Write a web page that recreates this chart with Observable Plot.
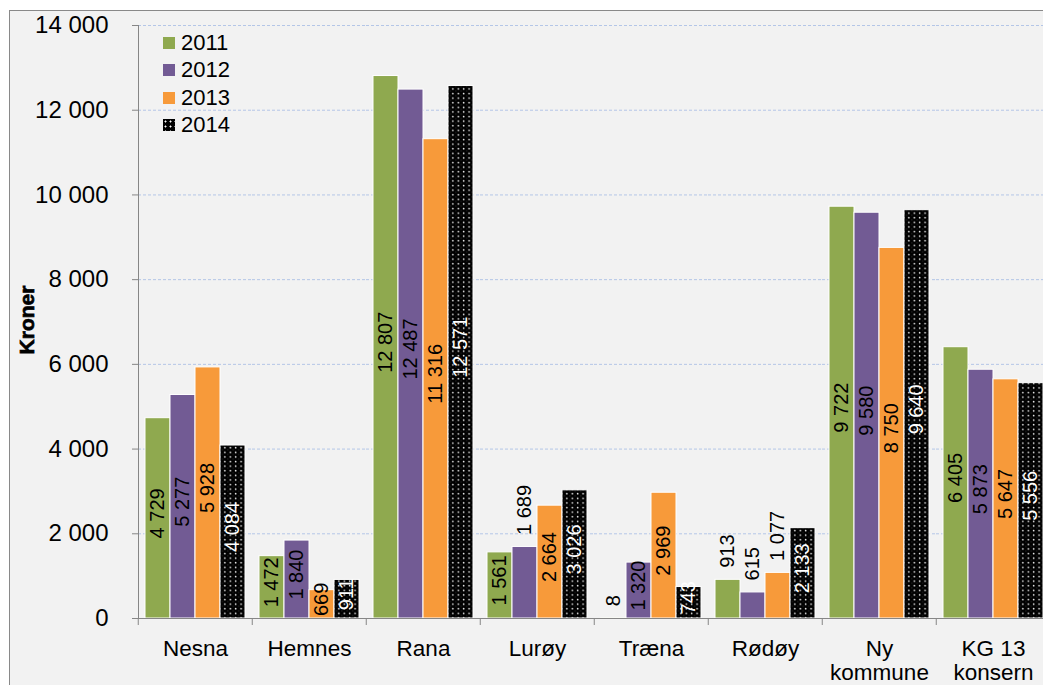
<!DOCTYPE html>
<html>
<head>
<meta charset="utf-8">
<script src="https://cdn.jsdelivr.net/npm/d3@7"></script>
<script src="https://cdn.jsdelivr.net/npm/@observablehq/plot@0.6"></script>
<style>
  body { margin: 0; overflow: hidden; background: #fff; font-family: "Liberation Sans", Arial, sans-serif; }
  #frame { position: absolute; left: 9px; top: 10px; width: 1100px; height: 700px; border: 1px solid #898989; background: #f2f2f2; }
  #chart { position: absolute; left: 0; top: 0; }
  #legend { position: absolute; left: 163px; top: 29.5px; font-size: 22px; color: #000; }
  #legend .row { display: flex; align-items: center; height: 27.3px; }
  #legend .sw { width: 12px; height: 12px; margin-right: 6px; }
  #ytitle { position: absolute; left: 27px; top: 320px; transform: translate(-50%, -50%) rotate(-90deg); font-weight: bold; font-size: 21px; -webkit-text-stroke: 0.7px #000; white-space: nowrap; color: #000; }
</style>
</head>
<body>
<div id="frame"></div>
<div id="chart"></div>
<div id="legend"></div>
<div id="ytitle">Kroner</div>
<script>
const categories = ["Nesna", "Hemnes", "Rana", "Lurøy", "Træna", "Rødøy", "Ny kommune", "KG 13 konsern"];
const years = ["2011", "2012", "2013", "2014"];
const values2011 = [4729, 1472, 12807, 1561, 8, 913, 9722, 6405];
const values2012 = [5277, 1840, 12487, 1689, 1320, 615, 9580, 5873];
const values2013 = [5928, 669, 11316, 2664, 2969, 1077, 8750, 5647];
const values2014 = [4084, 911, 12571, 3026, 743, 2133, 9640, 5556];
const yTicks = [0, 2000, 4000, 6000, 8000, 10000, 12000, 14000];
// labels drawn above their bar instead of centred inside
const outsideLabels = [["Træna", "2011"], ["Lurøy", "2012"], ["Rødøy", "2011"], ["Rødøy", "2012"], ["Rødøy", "2013"]];

const colors = ["#8fa94f", "#725b94", "#f79a3a", "url(#dots)"];
const series = [values2011, values2012, values2013, values2014];

const data = [];
categories.forEach((c, i) => years.forEach((y, j) => data.push({cat: c, year: y, value: series[j][i]})));
const isOutside = d => outsideLabels.some(([c, y]) => c === d.cat && y === d.year);

const fmt = d3.formatLocale({thousands: "\u00a0", grouping: [3], decimal: ","}).format(",");
const wrapLabel = d => d.replace(" kommune", "\nkommune").replace(" konsern", "\nkonsern");

const W = 1060, ML = 136, MR = 8;
const step = (W - ML - MR) / categories.length;

const chart = Plot.plot({
  width: W,
  height: 685,
  marginLeft: ML,
  marginRight: MR,
  marginTop: 25,
  marginBottom: 67,
  style: {background: "transparent", maxWidth: "none", overflow: "visible", fontFamily: "'Liberation Sans', Arial, sans-serif"},
  fx: {domain: categories, padding: 0, label: null, axis: null},
  x: {domain: years, paddingInner: 0, paddingOuter: 0.2, axis: null},
  y: {domain: [0, 14000], axis: null},
  color: {domain: years, range: colors},
  marks: [
    Plot.gridY(yTicks, {stroke: "#b4c6e7", strokeOpacity: 1, strokeDasharray: "3,2"}),
    Plot.barY(data, {fx: "cat", x: "year", y: "value", fill: "year", stroke: "white", strokeWidth: 1}),
    Plot.text(data.filter(d => !isOutside(d) && d.year !== "2014"), {
      fx: "cat", x: "year", y: d => d.value / 2, text: d => fmt(d.value),
      rotate: -90, fontSize: 20, fill: "black", dy: -5
    }),
    Plot.text(data.filter(d => !isOutside(d) && d.year === "2014"), {
      fx: "cat", x: "year", y: d => d.value / 2, text: d => fmt(d.value),
      rotate: -90, fontSize: 20, fill: "white", dy: -5
    }),
    Plot.text(data.filter(isOutside), {
      fx: "cat", x: "year", y: "value", text: d => fmt(d.value),
      rotate: -90, fontSize: 20, fill: "black", textAnchor: "start", dy: -12
    }),
    Plot.ruleY([0], {stroke: "#868686"}),
    Plot.axisY({ticks: yTicks, tickFormat: fmt, tickSize: 6, tickPadding: 24, fontSize: 24, stroke: "#868686", fill: "black", label: null}),
    Plot.axisFx({anchor: "bottom", tickSize: 7, tickFormat: () => "", dx: -step / 2, stroke: "#868686", label: null}),
    Plot.axisFx({anchor: "bottom", tickSize: 0, tickPadding: 20, fontSize: 22.5, lineHeight: 1.08, tickFormat: wrapLabel, fill: "black", label: null}),
    Plot.frame({anchor: "left", stroke: "#868686", facetAnchor: "left"})
  ]
});

d3.select(chart).insert("defs", ":first-child").html(
  `<pattern id="dots" patternUnits="userSpaceOnUse" width="5.4" height="4.6">
     <rect width="5.4" height="4.6" fill="#000"/>
     <circle cx="1.5" cy="1.5" r="0.8" fill="#fff"/>
     <rect x="4.2" y="3.2" width="0.5" height="0.9" fill="#777"/>
   </pattern>`
);
document.getElementById("chart").appendChild(chart);

const legend = d3.select("#legend");
years.forEach((y, j) => {
  const row = legend.append("div").attr("class", "row");
  const sw = row.append("div").attr("class", "sw");
  if (j === 3) {
    sw.style("background-color", "#000")
      .style("background-image", "radial-gradient(circle, #fff 0 0.8px, transparent 1.2px)")
      .style("background-size", "5px 5px");
  } else {
    sw.style("background", colors[j]);
  }
  row.append("span").text(y);
});
</script>
</body>
</html>
